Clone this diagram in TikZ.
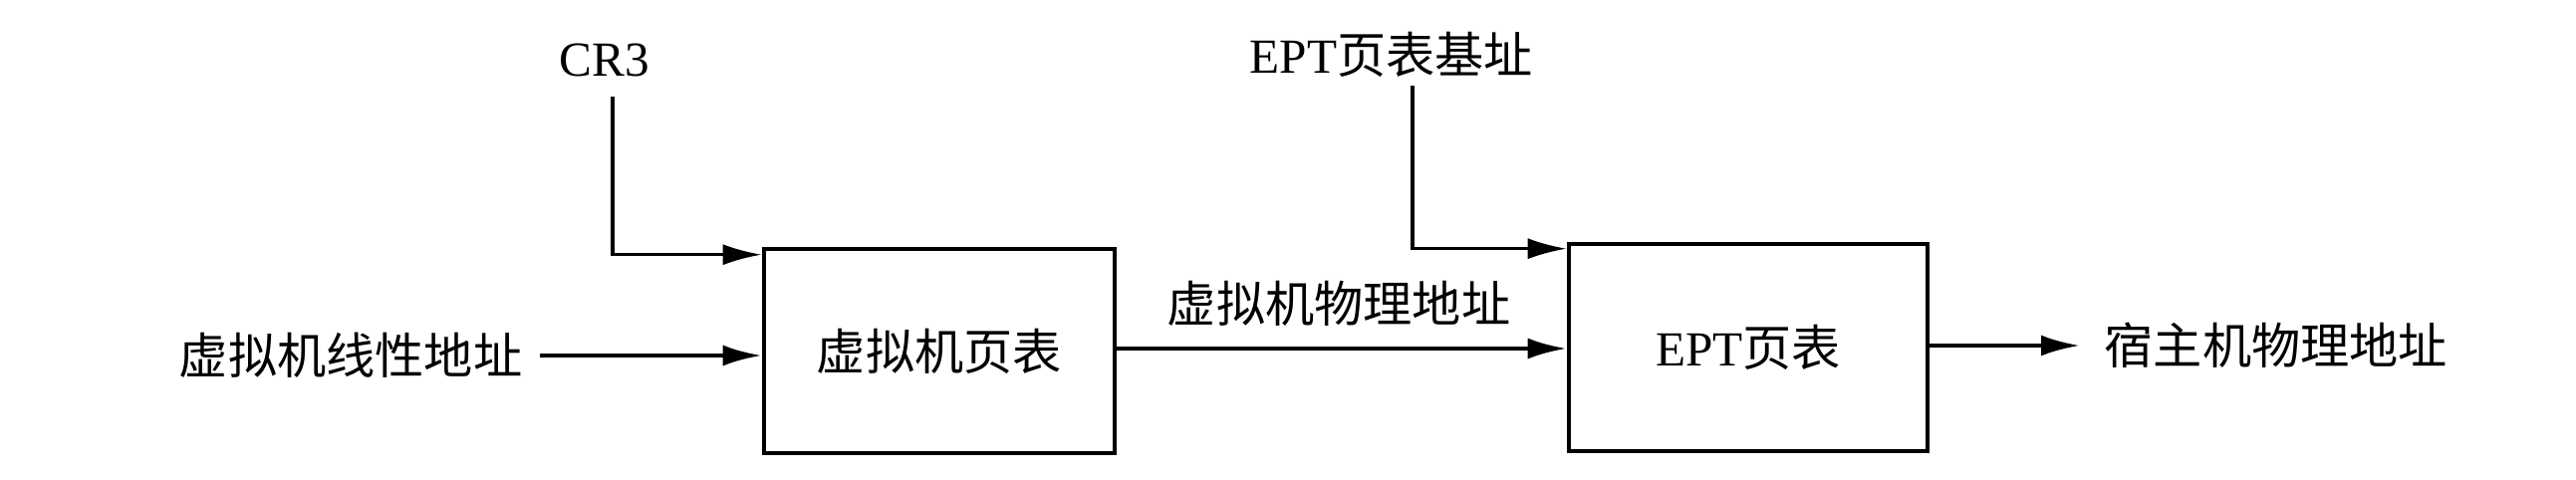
\documentclass[tikz,border=0pt]{standalone}
\usepackage{fontspec}
\setmainfont{Liberation Serif}
\newfontfamily\cjk{Noto Sans CJK SC}
\usetikzlibrary{arrows.meta}

\tikzset{
  lbl/.style={inner sep=0pt, font=\fontsize{14pt}{16pt}\selectfont},
  tablebox/.style={draw, line width=1.3pt, inner sep=0pt, font=\fontsize{14pt}{16pt}\selectfont},
  arr/.style={line width=1.2pt, -{Latex[length=3.9mm,width=2.1mm]}},
}

\begin{document}
\begin{tikzpicture}
    \useasboundingbox (0,0) rectangle (25.86,4.82);
    % the two page tables
    \node[tablebox, minimum width=3.52cm, minimum height=2.05cm] (vmpt) at (9.43,1.295) {\cjk 虚拟机页表};
    \node[tablebox, minimum width=3.6cm, minimum height=2.08cm] (eptpt) at (17.55,1.33) {EPT\cjk 页表};
    % inputs and outputs
    \node[lbl] (cr3) at (6.07,4.22) {CR3};
    \node[lbl] (eptbase) at (13.97,4.27) {EPT\cjk 页表基址};
    \node[lbl, anchor=east] (gva) at (5.25,1.25) {\cjk 虚拟机线性地址};
    \node[lbl] (gpa) at (13.44,1.77) {\cjk 虚拟机物理地址};
    \node[lbl, anchor=west] (hpa) at (21.12,1.35) {\cjk 宿主机物理地址};
    % connectors
    \draw[arr, line width=0.9pt] ([xshift=0.8mm,yshift=-2mm]cr3.south) |- ([yshift=-0.8mm]vmpt.north west);
    \draw[arr, line width=0.9pt] ([xshift=2.1mm,yshift=-0.8mm]eptbase.south) |- ([yshift=-0.7mm]eptpt.north west);
    \draw[arr] ([xshift=1.7mm]gva.east) -- (gva.east -| vmpt.west);
    \draw[arr] (vmpt.east |- 0,1.32) -- (eptpt.west |- 0,1.32);
    \draw[arr] (eptpt.east |- hpa.west) -- ([xshift=-2.4mm]hpa.west);
\end{tikzpicture}
\end{document}
